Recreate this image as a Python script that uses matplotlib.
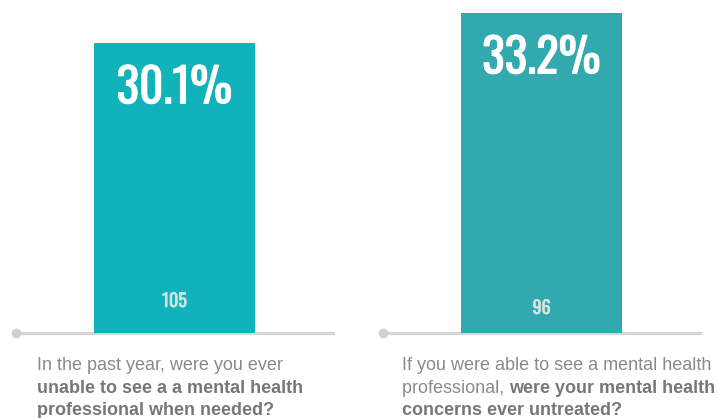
import matplotlib
matplotlib.use("Agg")
import matplotlib.pyplot as plt
import matplotlib.patheffects as pe
from matplotlib import font_manager

percents = [30.1, 33.2]
counts = [105, 96]
bar_colors = ["#0fb3b9", "#31a9ae"]
# each caption: list of lines, each line a list of (text, bold) pieces
captions = [
    [[("In the past year, were you ever", False)],
     [("unable to see a a mental health", True)],
     [("professional when needed?", True)]],
    [[("If you were able to see a mental health", False)],
     [("professional, ", False), ("were your mental health", True)],
     [("concerns ever untreated?", True)]],
]

# narrow font for the big numbers
names = {f.name for f in font_manager.fontManager.ttflist}
num_family = "Oswald" if "Oswald" in names else "DejaVu Sans"
cap_font = "Liberation Sans" if "Liberation Sans" in names else "DejaVu Sans"

W, H = 718, 418
fig = plt.figure(figsize=(W / 100, H / 100), dpi=100)

px_per_unit = 9.64
ax_h = 333
lefts = [16, 383]
count_offsets = [26, 19]   # px above baseline
cap_x = [37, 402]

for i in range(2):
    ax = fig.add_axes([lefts[i] / W, (H - 333) / H, 317 / W, ax_h / H])
    ax.set_xlim(-0.5, 0.5)
    ax.set_ylim(0, ax_h / px_per_unit)
    ax.axis("off")
    ax.axhline(0, color="#d6d6d6", lw=2.3, zorder=1, clip_on=False)
    # grey dot at the start of the baseline
    ax.plot([-0.5], [0], "o", ms=7, color="#d0d0d0", mec="none", zorder=1, clip_on=False)
    ax.bar(0, percents[i], width=161 / 317, color=bar_colors[i], zorder=2)
    ax.annotate(f"{percents[i]}%", (0, percents[i]), xytext=(0, -60.5 * 0.72),
                textcoords="offset points", ha="center", va="baseline",
                color="white", fontsize=34, family=num_family,
                path_effects=[pe.withStroke(linewidth=0.7, foreground="white")])
    ax.annotate(f"{counts[i]}", (0, 0), xytext=(0, count_offsets[i] * 0.72),
                textcoords="offset points", ha="center", va="baseline",
                color="#d8e2e2", fontsize=13, family=num_family,
                path_effects=[pe.withStroke(linewidth=0.4, foreground="#d8e2e2")])

fig.canvas.draw()
renderer = fig.canvas.get_renderer()
line_y = [370, 393, 415]
for i, lines in enumerate(captions):
    for j, pieces in enumerate(lines):
        x = cap_x[i]
        for txt, bold in pieces:
            t = fig.text(x / W, (H - line_y[j]) / H, txt, family=cap_font,
                         fontsize=13.0, fontweight="bold" if bold else "normal",
                         color="#777777" if bold else "#8a8a8a", va="baseline")
            x += t.get_window_extent(renderer).width

fig.savefig("out.png", dpi=100)
